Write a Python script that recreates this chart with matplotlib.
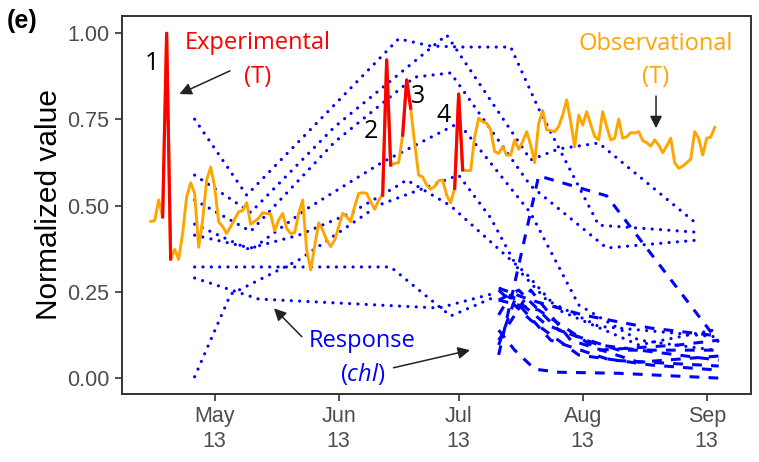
import numpy as np
import matplotlib
matplotlib.use("Agg")
import matplotlib.pyplot as plt
import matplotlib.dates as mdates
from matplotlib.ticker import FormatStrFormatter

YEAR_START = np.datetime64("2018-12-31")

# normalized water temperature, day of year -> value
temp_doy = [117, 118, 119, 120, 121, 122, 123, 124, 125, 126, 127, 128, 129, 130,
            131, 132, 133, 134, 135, 136, 137, 139, 140, 141, 142, 144, 145, 147,
            148, 149, 150, 151, 152, 153, 154, 155, 156, 157, 158, 159, 160, 161,
            162, 163, 164, 165, 166, 167, 168, 169, 170, 171, 172, 173, 174, 175,
            176, 177, 178, 179, 180, 181, 182, 183, 184, 185, 186, 187, 188, 189,
            190, 191, 192, 193, 194, 195, 196, 197, 198, 199, 200, 201, 202, 203,
            204, 205, 206, 207, 208, 209, 210, 211, 212, 213, 214, 215, 216, 217,
            218, 219, 220, 221, 222, 223, 224, 225, 226, 227, 228, 229, 230, 231,
            232, 233, 234, 235, 236, 237, 238, 239, 240, 241, 242, 243, 244, 245,
            246, 247, 248, 249, 250, 252, 253, 254, 255, 256, 257, 258]
temp_val = [0.454, 0.456, 0.516, 0.467, 0.999, 0.345, 0.373, 0.344, 0.419, 0.525,
            0.566, 0.535, 0.379, 0.458, 0.574, 0.611, 0.555, 0.453, 0.439, 0.419,
            0.439, 0.482, 0.485, 0.508, 0.446, 0.463, 0.479, 0.475, 0.427, 0.458,
            0.477, 0.434, 0.419, 0.421, 0.477, 0.516, 0.371, 0.313, 0.381, 0.450,
            0.429, 0.400, 0.381, 0.400, 0.439, 0.477, 0.468, 0.453, 0.497, 0.535,
            0.537, 0.535, 0.511, 0.489, 0.516, 0.530, 0.922, 0.617, 0.622, 0.624,
            0.704, 0.864, 0.782, 0.680, 0.588, 0.583, 0.559, 0.547, 0.555, 0.572,
            0.574, 0.530, 0.508, 0.550, 0.823, 0.603, 0.601, 0.601, 0.699, 0.753,
            0.743, 0.738, 0.719, 0.656, 0.651, 0.670, 0.646, 0.646, 0.690, 0.663,
            0.685, 0.714, 0.675, 0.624, 0.738, 0.775, 0.719, 0.717, 0.714, 0.729,
            0.762, 0.806, 0.743, 0.670, 0.762, 0.733, 0.772, 0.735, 0.700, 0.690,
            0.772, 0.728, 0.690, 0.695, 0.750, 0.695, 0.699, 0.711, 0.710, 0.714,
            0.688, 0.682, 0.672, 0.690, 0.675, 0.653, 0.672, 0.695, 0.624, 0.608,
            0.614, 0.634, 0.714, 0.695, 0.646, 0.695, 0.698, 0.726]

# experimental heating pulses (first day, last day)
pulse_days = [(120, 122), (175, 177), (180, 182), (193, 195)]

# chlorophyll response, first campaign (dotted)
dotted_doy = [
    [128, 141, 179, 187, 195, 207, 214, 229, 253],
    [128, 142, 163, 191, 212, 219, 229, 253],
    [128, 142, 163, 183, 192, 212, 231, 254],
    [128, 142, 156, 175, 194, 212, 224, 239, 258],
    [128, 142, 154, 167, 179, 181, 192, 211, 219, 239, 258],
    [128, 177, 192, 203],
    [128, 144, 189, 203],
    [128, 137, 154, 174, 194, 202, 209, 216, 229, 258],
]
dotted_val = [
    [0.750, 0.530, 0.983, 0.962, 0.959, 0.959, 0.780, 0.443, 0.423],
    [0.588, 0.480, 0.728, 0.994, 0.632, 0.664, 0.681, 0.452],
    [0.516, 0.425, 0.684, 0.872, 0.884, 0.557, 0.377, 0.400],
    [0.446, 0.371, 0.490, 0.626, 0.739, 0.478, 0.212, 0.110, 0.081],
    [0.414, 0.377, 0.414, 0.478, 0.559, 0.574, 0.499, 0.301, 0.197, 0.096, 0.140],
    [0.322, 0.322, 0.180, 0.235],
    [0.290, 0.229, 0.203, 0.246],
    [0.004, 0.243, 0.342, 0.501, 0.588, 0.464, 0.313, 0.226, 0.150, 0.120],
]

# chlorophyll response, second campaign (dashed)
dashed_doy = [
    [204, 214, 231, 259],
    [204, 212, 225, 242, 259],
    [204, 208, 213, 219, 234, 259],
    [204, 209, 219, 234, 259],
    [204, 207, 216, 229, 259],
    [204, 208, 217, 232, 259],
    [204, 212, 224, 242, 259],
    [204, 212, 222, 239, 259],
    [204, 214, 229, 249, 259],
]
dashed_val = [
    [0.067, 0.586, 0.528, 0.104],
    [0.261, 0.226, 0.183, 0.145, 0.122],
    [0.139, 0.081, 0.026, 0.017, 0.014, 0.000],
    [0.226, 0.255, 0.139, 0.081, 0.081],
    [0.183, 0.241, 0.154, 0.096, 0.052],
    [0.096, 0.226, 0.110, 0.052, 0.035],
    [0.255, 0.168, 0.067, 0.038, 0.023],
    [0.110, 0.255, 0.110, 0.046, 0.064],
    [0.226, 0.197, 0.081, 0.096, 0.110],
]


def to_date(doy):
    return YEAR_START + np.array(doy, dtype="timedelta64[D]")


def at(doy):
    # fractional day of year -> datetime64
    return YEAR_START + np.timedelta64(int(round(doy * 24)), "h")


plt.rcParams["mathtext.fontset"] = "custom"
plt.rcParams["mathtext.it"] = "Open Sans:italic"
plt.rcParams["mathtext.rm"] = "Open Sans"

fig = plt.figure(figsize=(7.59, 4.62), dpi=100)
ax = fig.add_axes([0.1607, 0.1472, 0.8288, 0.8182])

BLUE = "#0000FF"
ORANGE = "#FFA500"
RED = "#FF0000"

for d, v in zip(dotted_doy, dotted_val):
    ax.plot(to_date(d), v, color=BLUE, lw=2.3, linestyle=(0, (0.01, 2.6)),
            dash_capstyle="round")
for d, v in zip(dashed_doy, dashed_val):
    ax.plot(to_date(d), v, color=BLUE, lw=2.2, linestyle=(0, (3.2, 3.0)))

t_dates = to_date(temp_doy)
t_val = np.array(temp_val)
ax.plot(t_dates, t_val, color=ORANGE, lw=2.1, solid_joinstyle="round")
doy_arr = np.array(temp_doy)
for a, b in pulse_days:
    m = (doy_arr >= a) & (doy_arr <= b)
    ax.plot(t_dates[m], t_val[m], color=RED, lw=2.3, solid_joinstyle="round")

ax.set_xlim(at(109.85), at(267.1))
ax.set_ylim(-0.046, 1.049)
ax.set_yticks([0, 0.25, 0.5, 0.75, 1.0])
ax.yaxis.set_major_formatter(FormatStrFormatter("%.2f"))
ax.xaxis.set_major_locator(mdates.DayLocator(bymonthday=13))
ax.xaxis.set_major_formatter(mdates.DateFormatter("%b\n%d"))

for lab in ax.get_xticklabels() + ax.get_yticklabels():
    lab.set_family("Liberation Sans")
ax.tick_params(axis="both", colors="#333333", labelcolor="#4D4D4D",
               labelsize=15.5, length=5, width=1.2)
ax.tick_params(axis="x", pad=4)
ax.tick_params(axis="y", pad=4)
for s in ax.spines.values():
    s.set_color("#333333")
    s.set_linewidth(1.4)

ax.set_ylabel("Normalized value", fontsize=21.5, family="Liberation Sans",
              labelpad=3)
fig.text(0.009, 0.94, "(e)", fontsize=18, fontweight="bold",
         family="Liberation Sans")

ann = dict(family="Open Sans", ha="center", va="center")
ax.text(at(117.3), 0.912, "1", fontsize=18, color="black", **ann)
ax.text(at(172.0), 0.714, "2", fontsize=18, color="black", **ann)
ax.text(at(183.8), 0.815, "3", fontsize=18, color="black", **ann)
ax.text(at(190.2), 0.762, "4", fontsize=18, color="black", **ann)

ax.text(at(143.8), 0.971, "Experimental", fontsize=17, color=RED, **ann)
ax.text(at(143.8), 0.873, "(T)", fontsize=17, color=RED, **ann)
ax.text(at(243.35), 0.968, "Observational", fontsize=17, color=ORANGE, **ann)
ax.text(at(243.35), 0.873, "(T)", fontsize=17, color=ORANGE, **ann)
ax.text(at(170.0), 0.108, "Response", fontsize=17, color=BLUE, **ann)
ax.text(at(170.1), 0.012, r"($\mathit{chl}$)", fontsize=17, color=BLUE, **ann)

arrow = dict(arrowstyle="-|>", color="#222222", lw=1.1, mutation_scale=18,
             shrinkA=0, shrinkB=0)
ax.annotate("", xy=(at(124.2), 0.823), xytext=(at(136.85), 0.890),
            arrowprops=arrow)
ax.annotate("", xy=(at(243.35), 0.724), xytext=(at(243.35), 0.817),
            arrowprops=arrow)
ax.annotate("", xy=(at(147.85), 0.202), xytext=(at(154.8), 0.120),
            arrowprops=arrow)
ax.annotate("", xy=(at(196.85), 0.081), xytext=(at(177.7), 0.030),
            arrowprops=arrow)

fig.savefig("out.png", dpi=100)
